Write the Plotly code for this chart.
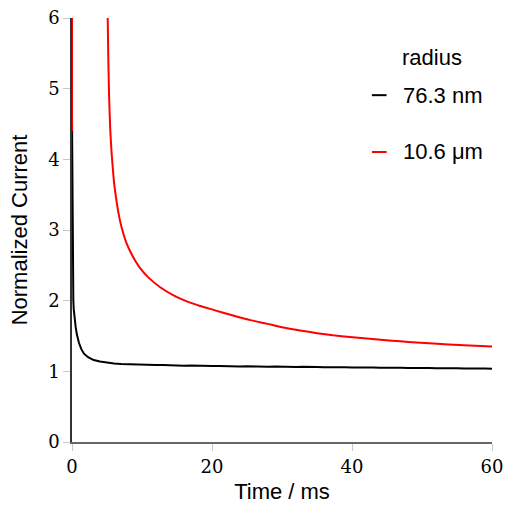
import plotly.graph_objects as go

# ---- data ----
series_names = ["76.3 nm", "10.6 μm"]
legend_title = "radius"

# black: 76.3 nm radius
t_small = [0, 0.03, 0.06, 0.1, 0.15, 0.19, 0.25, 0.35, 0.52, 0.7, 1.0, 1.35, 1.71, 2.3, 3.1, 4.0,
           5, 6, 7, 8, 9, 10, 11, 12, 13, 14, 15, 16, 17, 18, 19, 20,
           21, 22, 23, 24, 25, 26, 27, 28, 29, 30, 31, 32, 33, 34, 35, 36, 37, 38, 39, 40,
           41, 42, 43, 44, 45, 46, 47, 48, 49, 50, 51, 52, 53, 54, 55, 56, 57, 58, 59, 60]
i_small = [4.6, 3.9, 3.3, 2.6, 2.2, 2.0, 1.88, 1.75, 1.63, 1.52, 1.40, 1.31, 1.25, 1.2, 1.16, 1.138,
           1.122, 1.111, 1.104, 1.099, 1.097, 1.092, 1.094, 1.088, 1.089, 1.084, 1.086, 1.080, 1.082, 1.076, 1.079, 1.074,
           1.077, 1.071, 1.073, 1.069, 1.072, 1.066, 1.069, 1.064, 1.067, 1.063, 1.066, 1.060, 1.064, 1.058, 1.062, 1.057, 1.060, 1.055, 1.058, 1.053,
           1.057, 1.051, 1.055, 1.050, 1.053, 1.047, 1.051, 1.046, 1.049, 1.044, 1.048, 1.043, 1.046, 1.041, 1.045, 1.040, 1.043, 1.038, 1.041, 1.037]

# red: 10.6 um radius (segment at t=0, then curve)
t_large = [0, 0, None, 5.0, 5.1, 5.2, 5.3, 5.45, 5.65, 5.85, 6.0, 6.3, 6.6, 7.0, 7.4, 7.8, 8.5, 9.1, 9.7,
           10.9, 12.6, 14.5, 16.4, 18.3, 20.2, 23.0, 25.5, 27.8, 30.2, 32.6, 35.0, 37.3, 39.7, 42.1,
           44.5, 46.9, 49.2, 51.6, 56.0, 60.0]
i_large = [10, 4.4, None, 7.0, 6.0, 5.35, 4.9, 4.45, 4.1, 3.85, 3.68, 3.45, 3.26, 3.07, 2.93, 2.81, 2.66, 2.555, 2.465,
           2.33, 2.19, 2.075, 1.99, 1.925, 1.87, 1.79, 1.725, 1.675, 1.62, 1.578, 1.54, 1.51, 1.486, 1.465,
           1.443, 1.425, 1.408, 1.393, 1.368, 1.35]

x_ticks = [0, 20, 40, 60]
y_ticks = [0, 1, 2, 3, 4, 5, 6]

colors = ["#000000", "#ff0000"]

fig = go.Figure()
fig.add_trace(go.Scatter(x=t_small, y=i_small, mode="lines", name=series_names[0],
                         line=dict(color=colors[0], width=2),
                         showlegend=False, connectgaps=False))
fig.add_trace(go.Scatter(x=t_large, y=i_large, mode="lines", name=series_names[1],
                         line=dict(color=colors[1], width=2, shape="spline", smoothing=0.5),
                         showlegend=False, connectgaps=False))

sans = "Liberation Sans"
serif = "DejaVu Serif"

fig.update_layout(
    width=505, height=511,
    margin=dict(l=72, r=13, t=18, b=69),
    paper_bgcolor="white", plot_bgcolor="white",
    xaxis=dict(range=[0, 60], tickvals=x_ticks, ticks="outside", ticklen=7,
               tickcolor="#c8c8c8", tickwidth=1, showgrid=False, zeroline=False,
               showline=True, linecolor="#666666", linewidth=2, automargin=False,
               ticklabeloverflow="allow",
               tickfont=dict(family=serif, size=18, color="black"),
               title=dict(text="Time / ms", font=dict(family=sans, size=22, color="black"),
                          standoff=8)),
    yaxis=dict(range=[0, 6], tickvals=y_ticks, ticks="outside", ticklen=7,
               tickcolor="#c8c8c8", tickwidth=1, showgrid=False, zeroline=False,
               showline=True, linecolor="#333333", linewidth=1.5, automargin=False,
               ticklabeloverflow="allow",
               tickfont=dict(family=serif, size=18, color="black"),
               title=dict(text="Normalized Current", font=dict(family=sans, size=22, color="black"),
                          standoff=14)),
)

# legend drawn as annotations + short line samples
fig.add_annotation(xref="paper", yref="paper", x=0.857, y=0.906, text=legend_title,
                   showarrow=False, xanchor="center", yanchor="middle",
                   font=dict(family=sans, size=22, color="black"))
leg_y = [0.818, 0.684]
for name, col, yy in zip(series_names, colors, leg_y):
    fig.add_shape(type="line", xref="paper", yref="paper", x0=0.714, x1=0.749, y0=yy, y1=yy,
                  line=dict(color=col, width=2))
    fig.add_annotation(xref="paper", yref="paper", x=0.783, y=yy, text=name,
                       showarrow=False, xanchor="left", yanchor="middle",
                       font=dict(family=sans, size=22, color="black"))

# remove the default body margin so the 505x511 figure fills the window exactly
fig.write_html("out.html", config={"displayModeBar": False},
               post_script="document.body.style.margin='0';document.body.style.overflow='hidden';")
